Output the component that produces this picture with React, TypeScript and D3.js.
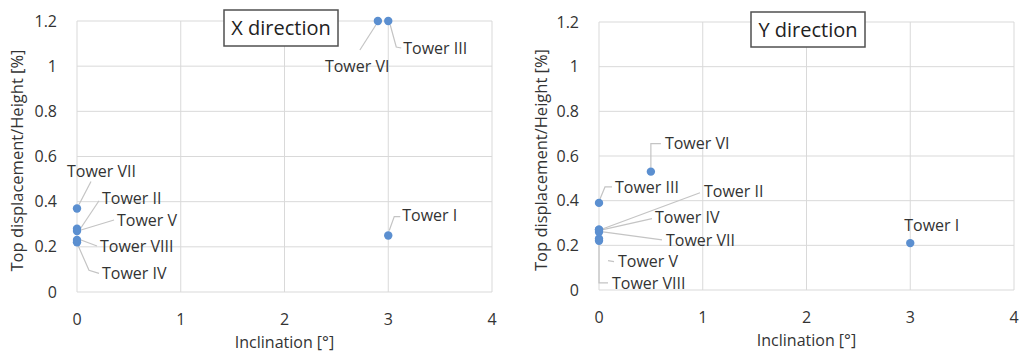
import React from "react";
import * as d3 from "d3";

// Towers and their values for each direction
const towersX = ["Tower I", "Tower II", "Tower III", "Tower IV", "Tower V", "Tower VI", "Tower VII", "Tower VIII"];
const inclinationX = [3, 0, 3, 0, 0, 2.9, 0, 0];
const driftX = [0.25, 0.28, 1.2, 0.22, 0.27, 1.2, 0.37, 0.23];

const towersY = ["Tower I", "Tower II", "Tower III", "Tower IV", "Tower V", "Tower VI", "Tower VII", "Tower VIII"];
const inclinationY = [3, 0, 0, 0, 0, 0.5, 0, 0];
const driftY = [0.21, 0.27, 0.39, 0.27, 0.23, 0.53, 0.26, 0.22];

const xTicks = [0, 1, 2, 3, 4];
const yTicks = [0, 0.2, 0.4, 0.6, 0.8, 1, 1.2];
const xTitle = "Inclination [°]";
const yTitle = "Top displacement/Height [%]";

// Label placement: text offset from the point and leader polyline (offsets from the point)
type Place = { dx: number; dy: number; leader: [number, number][] };
const placeX: Record<string, Place> = {
  "Tower I": { dx: 14, dy: -20, leader: [[1, -5], [6, -19], [12, -19]] },
  "Tower II": { dx: 25, dy: -30, leader: [[4, -1], [22, -28]] },
  "Tower III": { dx: 15, dy: 27, leader: [[2, 4], [8, 26], [13, 27]] },
  "Tower IV": { dx: 25, dy: 31, leader: [[1, 3], [12, 28], [22, 31]] },
  "Tower V": { dx: 40, dy: -11, leader: [[4, -1], [37, -11]] },
  "Tower VI": { dx: -53, dy: 45, leader: [[-2, 4], [-18, 29]] },
  "Tower VII": { dx: -10, dy: -37, leader: [[2, -4], [14, -27]] },
  "Tower VIII": { dx: 23, dy: 6, leader: [[4, 0], [20, 6]] },
};
const placeY: Record<string, Place> = {
  "Tower I": { dx: -6, dy: -18, leader: [] },
  "Tower II": { dx: 105, dy: -38, leader: [[4, -1], [101, -37]] },
  "Tower III": { dx: 16, dy: -16, leader: [[1, -4], [6, -16], [13, -16]] },
  "Tower IV": { dx: 56, dy: -12, leader: [[4, 0], [53, -11]] },
  "Tower V": { dx: 19, dy: 23, leader: [[9, 22], [15, 23]] },
  "Tower VI": { dx: 14, dy: -28, leader: [[0, -4], [0, -28], [10, -28]] },
  "Tower VII": { dx: 67, dy: 8, leader: [[4, 0], [63, 8]] },
  "Tower VIII": { dx: 13, dy: 43, leader: [[0, 4], [0, 42], [9, 42]] },
};

const FONT = "'Open Sans', 'Noto Sans', sans-serif";
const TEXT = "#333333";
const GRID = "#d9d9d9";
const DOT = "#5b8fd0";
const LEADER = "#c4c4c4";

type PanelProps = {
  left: number;
  right: number;
  top: number;
  bottom: number;
  names: string[];
  xs: number[];
  ys: number[];
  place: Record<string, Place>;
  title: string;
  box: { x: number; y: number; w: number; h: number };
  yTitleX: number;
};

function Panel({ left, right, top, bottom, names, xs, ys, place, title, box, yTitleX }: PanelProps) {
  const x = d3.scaleLinear().domain([0, 4]).range([left, right]);
  const y = d3.scaleLinear().domain([0, 1.2]).range([bottom, top]);
  const fmt = (v: number) => (v === 0 || v === 1 ? String(v) : d3.format(".1f")(v));
  return (
    <g>
      {yTicks.map((t) => (
        <line key={"h" + t} x1={left} x2={right} y1={y(t)} y2={y(t)} stroke={GRID} strokeWidth={1} />
      ))}
      {xTicks.map((t) => (
        <line key={"v" + t} x1={x(t)} x2={x(t)} y1={top} y2={bottom} stroke={GRID} strokeWidth={1} />
      ))}
      {yTicks.map((t) => (
        <text key={"yt" + t} x={left - 20} y={y(t)} dy="0.35em" textAnchor="end" fontSize={16} fill={TEXT} fontFamily={FONT}>
          {fmt(t)}
        </text>
      ))}
      {xTicks.map((t) => (
        <text key={"xt" + t} x={x(t)} y={bottom + 27} dy="0.35em" textAnchor="middle" fontSize={16} fill={TEXT} fontFamily={FONT}>
          {t}
        </text>
      ))}
      <text x={(left + right) / 2} y={bottom + 50} dy="0.35em" textAnchor="middle" fontSize={16} fill={TEXT} fontFamily={FONT}>
        {xTitle}
      </text>
      <text
        transform={`translate(${yTitleX},${(top + bottom) / 2 + 4}) rotate(-90)`}
        dy="0.35em"
        textAnchor="middle"
        fontSize={16.5}
        fill={TEXT}
        fontFamily={FONT}
      >
        {yTitle}
      </text>
      {names.map((n, i) => {
        const px = x(xs[i]);
        const py = y(ys[i]);
        const p = place[n];
        if (!p.leader.length) return null;
        const pts = p.leader.map(([a, b]) => [px + a, py + b] as [number, number]);
        return <path key={"l" + n} d={d3.line()(pts) ?? ""} fill="none" stroke={LEADER} strokeWidth={1.2} />;
      })}
      {names.map((n, i) => (
        <circle key={"c" + n} cx={x(xs[i])} cy={y(ys[i])} r={4.2} fill={DOT} />
      ))}
      {names.map((n, i) => {
        const p = place[n];
        return (
          <text key={"t" + n} x={x(xs[i]) + p.dx} y={y(ys[i]) + p.dy} dy="0.35em" fontSize={16} fill={TEXT} fontFamily={FONT}>
            {n}
          </text>
        );
      })}
      <rect x={box.x} y={box.y} width={box.w} height={box.h} fill="#fff" stroke="#505050" strokeWidth={1.5} />
      <text x={box.x + box.w / 2} y={box.y + box.h / 2} dy="0.35em" textAnchor="middle" fontSize={20} fill="#222" fontFamily={FONT}>
        {title}
      </text>
    </g>
  );
}

export default function App() {
  return (
    <svg width={1024} height={355} style={{ position: "absolute", left: 0, top: 0, background: "#fff" }}>
      <Panel
        left={77}
        right={492}
        top={21}
        bottom={292}
        names={towersX}
        xs={inclinationX}
        ys={driftX}
        place={placeX}
        title="X direction"
        box={{ x: 224, y: 10, w: 114, h: 36 }}
        yTitleX={17}
      />
      <Panel
        left={599}
        right={1014}
        top={22}
        bottom={290}
        names={towersY}
        xs={inclinationY}
        ys={driftY}
        place={placeY}
        title="Y direction"
        box={{ x: 751, y: 12, w: 114, h: 35 }}
        yTitleX={541}
      />
    </svg>
  );
}
